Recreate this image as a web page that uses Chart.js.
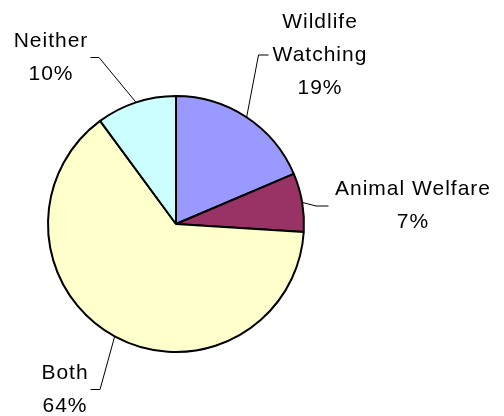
<!DOCTYPE html>
<html>
<head>
<meta charset="utf-8">
<script src="https://cdn.jsdelivr.net/npm/chart.js@4"></script>
<style>
  html, body { margin: 0; padding: 0; background: #ffffff; }
  #wrap { width: 504px; height: 416px; position: relative; }
</style>
</head>
<body>
<div id="wrap"><canvas id="c" width="504" height="416"></canvas></div>
<script>
// ---- data ----
const categories = [['Wildlife', 'Watching'], ['Animal Welfare'], ['Both'], ['Neither']];
const shares = [18.6, 7.4, 63.9, 10.1];
const sliceColors = ['#9999FF', '#993366', '#FFFFCC', '#CCFFFF'];

// ---- label layout (pixel positions of label text and leader elbows) ----
const labelLayout = [
  { tx: 320, ty: 28, elbow: [258.5, 55], end: [268.5, 55] },
  { tx: 413, ty: 195, elbow: [316, 206], end: [328.5, 206] },
  { tx: 65, ty: 379, elbow: [100, 389.5], end: [90.5, 389.5] },
  { tx: 51, ty: 47, elbow: [99, 57.5], end: [90.5, 57.5] }
];
const lineGap = 33;

const labelPlugin = {
  id: 'pieLabels',
  afterDatasetsDraw(chart) {
    const ctx = chart.ctx;
    const meta = chart.getDatasetMeta(0);
    const data = chart.data.datasets[0].data;
    const total = data.reduce((a, b) => a + b, 0);
    ctx.save();
    meta.data.forEach((arc, i) => {
      const p = arc.getProps(['x', 'y', 'startAngle', 'endAngle', 'outerRadius'], true);
      const mid = (p.startAngle + p.endAngle) / 2;
      const ex = p.x + Math.cos(mid) * p.outerRadius;
      const ey = p.y + Math.sin(mid) * p.outerRadius;
      const L = labelLayout[i];
      ctx.strokeStyle = '#000000';
      ctx.lineWidth = 1;
      ctx.beginPath();
      ctx.moveTo(ex, ey);
      ctx.lineTo(L.elbow[0], L.elbow[1]);
      ctx.lineTo(L.end[0], L.end[1]);
      ctx.stroke();

      const lines = [].concat(chart.data.labels[i]);
      lines.push(Math.round(data[i] / total * 100) + '%');
      ctx.fillStyle = '#000000';
      ctx.font = '21px "Liberation Sans", Arial, sans-serif';
      ctx.letterSpacing = '1px';
      ctx.textAlign = 'center';
      ctx.textBaseline = 'alphabetic';
      lines.forEach((t, k) => {
        ctx.fillText(t, L.tx, L.ty + k * lineGap);
      });
    });
    ctx.restore();
  }
};

new Chart(document.getElementById('c'), {
  type: 'pie',
  data: {
    labels: categories,
    datasets: [{
      data: shares,
      backgroundColor: sliceColors,
      borderColor: '#000000',
      borderWidth: 2
    }]
  },
  options: {
    responsive: false,
    animation: false,
    devicePixelRatio: 1,
    layout: { padding: { left: 47, right: 199, top: 95, bottom: 63 } },
    plugins: {
      legend: { display: false },
      tooltip: { enabled: false }
    }
  },
  plugins: [labelPlugin]
});
</script>
</body>
</html>
